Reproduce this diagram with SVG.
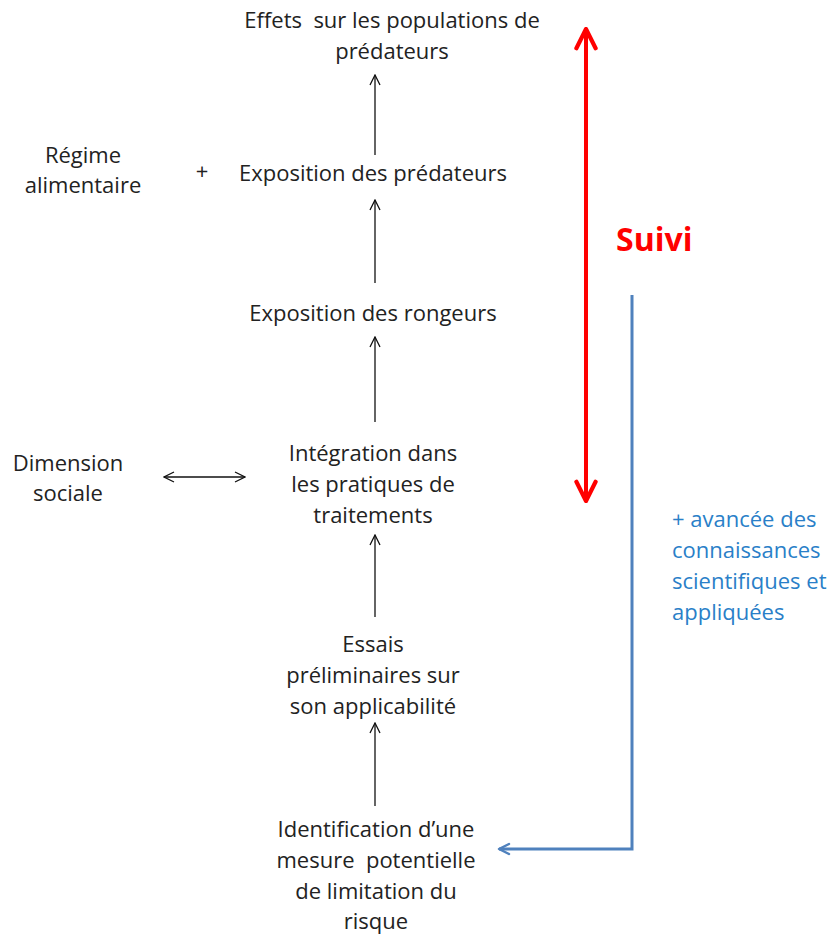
<svg xmlns="http://www.w3.org/2000/svg" width="832" height="934" viewBox="0 0 832 934">
<defs>
<style>
text{white-space:pre}
.t{font-family:"Open Sans","Liberation Sans",Arial,sans-serif;font-size:22px;fill:#222;text-anchor:middle}
.b{font-family:"Open Sans","Liberation Sans",Arial,sans-serif;font-size:22px;fill:#2a7fc8}
.s{font-family:"Open Sans","Liberation Sans",Arial,sans-serif;font-size:32px;font-weight:bold;fill:#ff0000}
.c{stroke:#111;stroke-width:1.3;fill:none}
</style>
<marker id="ah" viewBox="0 0 12 12" refX="11" refY="6" markerWidth="12" markerHeight="12" markerUnits="userSpaceOnUse" orient="auto-start-reverse">
<path d="M1,1 L11,6 L1,11" fill="none" stroke="#111" stroke-width="1.3"/>
</marker>
<marker id="rh" viewBox="0 0 20 20" refX="18" refY="10" markerWidth="24" markerHeight="24" markerUnits="userSpaceOnUse" orient="auto-start-reverse">
<path d="M2,2 L18,10 L2,18" fill="none" stroke="#ff0000" stroke-width="3.5" stroke-linecap="round" stroke-linejoin="round"/>
</marker>
<marker id="bh" viewBox="0 0 14 14" refX="12" refY="7" markerWidth="14" markerHeight="14" markerUnits="userSpaceOnUse" orient="auto">
<path d="M2,2 L12,7 L2,12" fill="none" stroke="#4f81bd" stroke-width="2.5" stroke-linecap="round" stroke-linejoin="round"/>
</marker>
</defs>
<rect width="832" height="934" fill="#fff"/>
<g id="connectors">
<line class="c" x1="375" y1="155" x2="375" y2="75" marker-end="url(#ah)"/>
<line class="c" x1="375" y1="283" x2="375" y2="200" marker-end="url(#ah)"/>
<line class="c" x1="375" y1="422" x2="375" y2="337" marker-end="url(#ah)"/>
<line class="c" x1="375" y1="617" x2="375" y2="535" marker-end="url(#ah)"/>
<line class="c" x1="375" y1="806" x2="375" y2="723" marker-end="url(#ah)"/>
<line class="c" x1="164" y1="477" x2="245" y2="477" marker-start="url(#ah)" marker-end="url(#ah)"/>
<line x1="586" y1="29" x2="586" y2="501" stroke="#ff0000" stroke-width="4" marker-start="url(#rh)" marker-end="url(#rh)"/>
<polyline points="632,295 632,849 499,849" fill="none" stroke="#4f81bd" stroke-width="3" marker-end="url(#bh)"/>
</g>
<g id="n-effets"><text class="t" x="392" y="28">Effets  sur les populations de</text><text class="t" x="392" y="59">prédateurs</text></g>
<g id="n-regime"><text class="t" x="83" y="163">Régime</text><text class="t" x="83" y="193">alimentaire</text></g>
<g id="n-plus"><text class="t" x="202" y="179">+</text></g>
<g id="n-expo-pred"><text class="t" x="373" y="181">Exposition des prédateurs</text></g>
<g id="n-expo-rong"><text class="t" x="373" y="321">Exposition des rongeurs</text></g>
<g id="n-integration"><text class="t" x="373" y="461">Intégration dans</text><text class="t" x="373" y="492">les pratiques de</text><text class="t" x="373" y="523">traitements</text></g>
<g id="n-dimension"><text class="t" x="68" y="471">Dimension</text><text class="t" x="68" y="501">sociale</text></g>
<g id="n-essais"><text class="t" x="373" y="652">Essais</text><text class="t" x="373" y="683">préliminaires sur</text><text class="t" x="373" y="714">son applicabilité</text></g>
<g id="n-identification"><text class="t" x="376" y="837">Identification d’une</text><text class="t" x="376" y="868">mesure  potentielle</text><text class="t" x="376" y="899">de limitation du</text><text class="t" x="376" y="929">risque</text></g>
<g id="n-suivi"><text class="s" x="616" y="251">Suivi</text></g>
<g id="n-avancee"><text class="b" x="672" y="527">+ avancée des</text><text class="b" x="672" y="558">connaissances</text><text class="b" x="672" y="589">scientifiques et</text><text class="b" x="672" y="620">appliquées</text></g>
</svg>
